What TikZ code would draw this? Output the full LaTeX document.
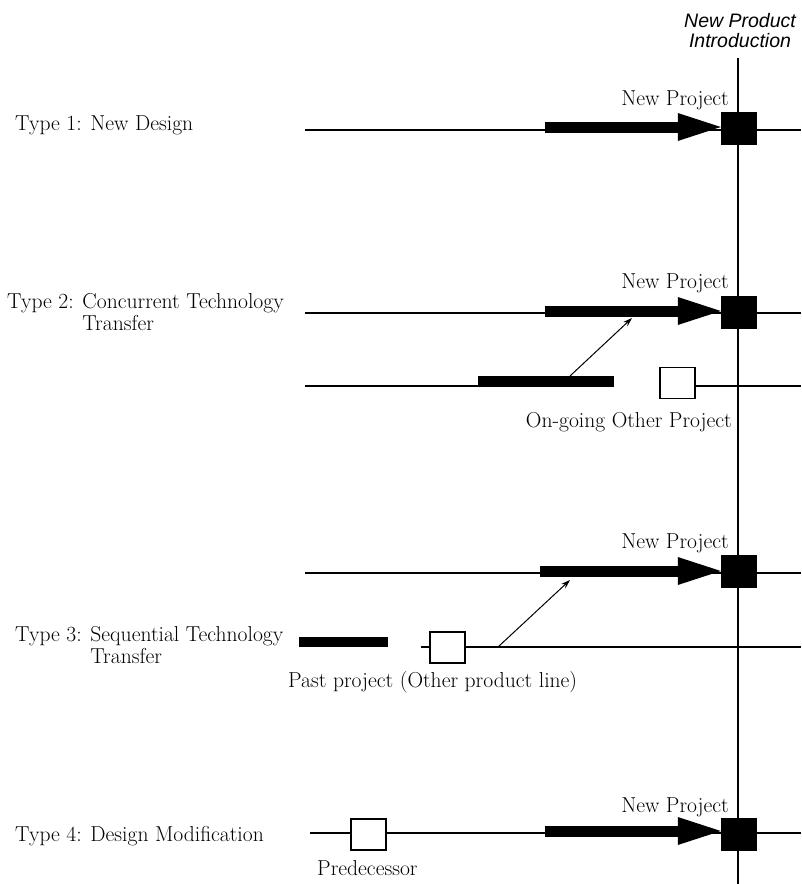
\documentclass[tikz,border=0pt]{standalone}
\usepackage{fontspec}
\newfontfamily\headfont{Liberation Sans}
\usetikzlibrary{arrows.meta,positioning}
\tikzset{
  tline/.style    = {line width=1.2pt},
  bigarrow/.style = {line width=11pt, -{Triangle[length=43pt,width=28pt,line width=0pt]}},
  bar/.style      = {fill=black, inner sep=0pt, minimum height=11pt},
  newproj/.style  = {fill=black, inner sep=0pt, minimum width=36pt, minimum height=33pt},
  oldproj/.style  = {draw, line width=1.2pt, fill=white, inner sep=0pt,
                     minimum width=35pt, minimum height=31pt},
  link/.style     = {line width=1pt, -{Stealth[length=9pt,width=6pt]}},
  lbl/.style      = {inner sep=0pt, font=\fontsize{21.6}{22}\selectfont},
  head/.style     = {inner sep=0pt, align=center, font=\headfont\itshape\fontsize{19.5}{20}\selectfont},
}

\begin{document}
\begin{tikzpicture}[x=1pt, y=-1pt]
  \useasboundingbox (0,0) rectangle (801,884);

  % time line
  \coordinate (npitop) at (738,58);
  \coordinate (npibot) at (738,884);
  \draw[tline] (npitop) -- (npibot);
  \node[head, anchor=base] (npi) at (740,47) {New Product\\Introduction};

  % Type 1
  \node[lbl, anchor=base west] (t1) at (15,130) {Type 1: New Design};
  \coordinate (l1s) at (305,130);
  \coordinate (l1e) at (801,130);
  \draw[tline] (l1s) -- (l1e);
  \node[newproj] (np1) at (739,128.5) {};
  \coordinate (a1) at (545,127);
  \draw[bigarrow] (a1) -- (a1 -| np1.west);
  \node[lbl, anchor=base east] (np1l) at (729,105) {New Project};

  % Type 2
  \node[lbl, anchor=base west] (t2) at (7,308)
    {Type 2: \begin{tabular}[t]{@{}l@{}}Concurrent Technology\\Transfer\end{tabular}};
  \coordinate (l2s) at (305,313);
  \coordinate (l2e) at (801,313);
  \draw[tline] (l2s) -- (l2e);
  \node[newproj] (np2) at (739,312) {};
  \coordinate (a2) at (545,311);
  \draw[bigarrow] (a2) -- (a2 -| np2.west);
  \node[lbl, anchor=base east] (np2l) at (729,288) {New Project};

  \coordinate (o2s) at (305,386);
  \coordinate (o2e) at (801,386);
  \node[bar, minimum width=136pt, anchor=south west] (bar2) at (478,387) {};
  \draw[tline] (o2s) -- (o2s -| bar2.west);
  \node[oldproj] (op2) at (677.5,383) {};
  \draw[tline] (op2.east |- o2e) -- (o2e);
  \coordinate (k2s) at (570,376);
  \coordinate (k2e) at (632,318);
  \draw[link] (k2s) -- (k2e);
  \node[lbl, anchor=base east] (op2l) at (732,427) {On-going Other Project};

  % Type 3
  \node[lbl, anchor=base west] (t3) at (15,641)
    {Type 3: \begin{tabular}[t]{@{}l@{}}Sequential Technology\\Transfer\end{tabular}};
  \coordinate (l3s) at (305,573);
  \coordinate (l3e) at (801,573);
  \draw[tline] (l3s) -- (l3e);
  \node[newproj] (np3) at (739,571.5) {};
  \coordinate (a3) at (540,571);
  \draw[bigarrow] (a3) -- (a3 -| np3.west);
  \node[lbl, anchor=base east] (np3l) at (729,548) {New Project};

  \node[bar, minimum width=89pt, minimum height=10pt, anchor=south west] (bar3) at (299,647) {};
  \coordinate (o3s) at (421,647);
  \coordinate (o3e) at (801,647);
  \draw[tline] (o3s) -- (o3e);
  \node[oldproj] (op3) at (447.5,647.5) {};
  \coordinate (k3s) at (498,647);
  \coordinate (k3e) at (570,580);
  \draw[link] (k3s) -- (k3e);
  \node[lbl, anchor=base west] (op3l) at (288,687) {Past project (Other product line)};

  % Type 4
  \node[lbl, anchor=base west] (t4) at (15,841) {Type 4: Design Modification};
  \coordinate (l4s) at (310,833);
  \coordinate (l4e) at (801,833);
  \draw[tline] (l4s) -- (l4e);
  \node[oldproj] (op4) at (368.5,834.5) {};
  \node[newproj] (np4) at (739,834) {};
  \coordinate (a4) at (545,831);
  \draw[bigarrow] (a4) -- (a4 -| np4.west);
  \node[lbl, anchor=base east] (np4l) at (729,812) {New Project};
  \node[lbl, anchor=base west] (op4l) at (317,875) {Predecessor};
\end{tikzpicture}
\end{document}
